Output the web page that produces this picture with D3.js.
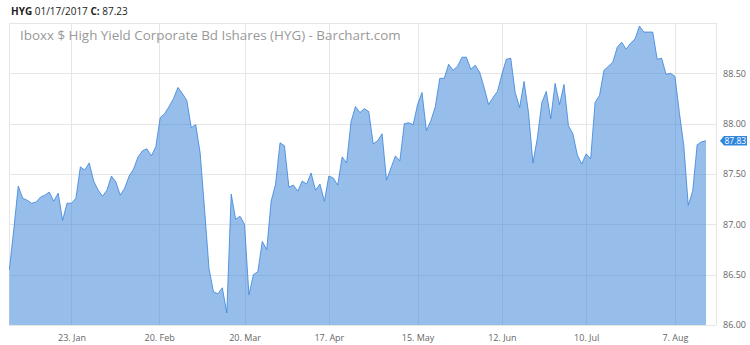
<!DOCTYPE html>
<html>
<head>
<meta charset="utf-8">
<script src="https://cdn.jsdelivr.net/npm/d3@7"></script>
<style>
  body { margin: 0; background: #fff; }
  svg { display: block; font-family: "Open Sans", sans-serif; }
</style>
</head>
<body>
<svg width="750" height="345"></svg>
<script>
// HYG daily closes, 30 Dec 2016 -> 16 Aug 2017 (one value per trading day)
var closes = [
  86.55, 86.95, 87.38, 87.26, 87.24, 87.21, 87.22, 87.27, 87.29, 87.32,
  87.23, 87.31, 87.04, 87.21, 87.21, 87.26, 87.57, 87.54, 87.61, 87.43,
  87.34, 87.28, 87.34, 87.48, 87.42, 87.29, 87.36, 87.48, 87.55, 87.67,
  87.73, 87.75, 87.68, 87.77, 88.06, 88.10, 88.17, 88.25, 88.36, 88.30,
  88.23, 87.96, 87.99, 87.71, 87.15, 86.56, 86.33, 86.31, 86.37, 86.12,
  87.30, 87.05, 87.08, 87.00, 86.30, 86.50, 86.53, 86.83, 86.75, 87.23,
  87.40, 87.81, 87.78, 87.37, 87.39, 87.33, 87.43, 87.40, 87.51, 87.34,
  87.40, 87.23, 87.48, 87.46, 87.39, 87.67, 87.61, 88.02, 88.17, 88.11,
  88.15, 88.12, 87.80, 87.83, 87.90, 87.44, 87.56, 87.68, 87.63, 88.00,
  88.01, 87.99, 88.19, 88.31, 87.93, 88.03, 88.17, 88.45, 88.45, 88.59,
  88.53, 88.57, 88.66, 88.66, 88.54, 88.58, 88.51, 88.36, 88.19, 88.26,
  88.32, 88.49, 88.64, 88.65, 88.31, 88.16, 88.42, 88.11, 87.61, 87.86,
  88.21, 88.32, 88.05, 88.40, 88.19, 88.39, 87.98, 87.90, 87.69, 87.60,
  87.70, 87.65, 88.21, 88.28, 88.53, 88.57, 88.61, 88.76, 88.81, 88.74,
  88.80, 88.84, 88.97, 88.91, 88.91, 88.91, 88.64, 88.65, 88.49, 88.50,
  88.47, 88.11, 87.78, 87.19, 87.33, 87.79, 87.82, 87.83
];

var firstDay = "2016-12-30";
var lastDay = "2017-08-16";
var holidays = ["2017-01-02", "2017-01-16", "2017-02-20", "2017-04-14", "2017-05-29", "2017-07-04"];

var xTickDates = ["2017-01-23", "2017-02-20", "2017-03-20", "2017-04-17", "2017-05-15", "2017-06-12", "2017-07-10", "2017-08-07"];
var xTickLabels = ["23. Jan", "20. Feb", "20. Mar", "17. Apr", "15. May", "12. Jun", "10. Jul", "7. Aug"];

var yTicks = [86, 86.5, 87, 87.5, 88, 88.5];
var yGrid = [86, 86.5, 87, 87.5, 88, 88.5, 89];

var symbol = "HYG";
var hoverDate = "01/17/2017";
var hoverClose = "87.23";
var title = "Iboxx $ High Yield Corporate Bd Ishares (HYG) - Barchart.com";

var parse = d3.utcParse("%Y-%m-%d");
var fmtDay = d3.utcFormat("%Y-%m-%d");

// trading calendar (weekdays minus exchange holidays)
var days = d3.utcDay.range(parse(firstDay), d3.utcDay.offset(parse(lastDay), 1))
  .filter(function(d) {
    var wd = d.getUTCDay();
    return wd != 0 && wd != 6 && holidays.indexOf(fmtDay(d)) == -1;
  });

var data = days.map(function(d, i) { return {date: d, close: closes[i]}; });

var svg = d3.select("svg"),
    plot = {left: 9, top: 23, right: 716, bottom: 325},
    dataRight = 706;

// ordinal-style x: evenly spaced trading days, piecewise time scale for ticks
var xi = d3.scaleLinear().domain([0, data.length - 1]).range([plot.left + 0.35, dataRight]);
var x = d3.scaleUtc()
  .domain(days)
  .range(days.map(function(d, i) { return xi(i); }));

var y = d3.scaleLinear().domain([86, 89]).range([plot.bottom, plot.top]);

var gridColor = "#e6e6e6";
var labelColor = "#666";
var seriesColor = "#2f7ed8";

// grid
svg.append("g")
  .selectAll("line.h")
  .data(yGrid)
  .enter().append("line")
  .attr("x1", plot.left).attr("x2", plot.right)
  .attr("y1", function(d) { return Math.round(y(d)) + 0.5; })
  .attr("y2", function(d) { return Math.round(y(d)) + 0.5; })
  .attr("stroke", gridColor);

var tickDates = xTickDates.map(parse);

svg.append("g")
  .selectAll("line")
  .data(tickDates)
  .enter().append("line")
  .attr("x1", function(d) { return Math.round(x(d)) + 0.5; })
  .attr("x2", function(d) { return Math.round(x(d)) + 0.5; })
  .attr("y1", plot.top).attr("y2", plot.bottom)
  .attr("stroke", gridColor);

svg.append("line")
  .attr("x1", plot.left + 0.5).attr("x2", plot.left + 0.5)
  .attr("y1", plot.top).attr("y2", plot.bottom)
  .attr("stroke", gridColor);
svg.append("line")
  .attr("x1", plot.right + 0.5).attr("x2", plot.right + 0.5)
  .attr("y1", plot.top).attr("y2", plot.bottom)
  .attr("stroke", gridColor);

// title inside the plot
svg.append("text")
  .attr("x", 20)
  .attr("y", 40)
  .attr("font-size", 13.4)
  .attr("fill", "#999")
  .text(title);

// area + line
var area = d3.area()
  .x(function(d) { return x(d.date); })
  .y0(y(86))
  .y1(function(d) { return y(d.close); });

var line = d3.line()
  .x(function(d) { return x(d.date); })
  .y(function(d) { return y(d.close); });

svg.append("path")
  .datum(data)
  .attr("d", area)
  .attr("fill", seriesColor)
  .attr("fill-opacity", 0.5);

svg.append("path")
  .datum(data)
  .attr("d", line)
  .attr("fill", "none")
  .attr("stroke", seriesColor)
  .attr("stroke-opacity", 0.75)
  .attr("stroke-width", 1);

// x axis
var xAxis = svg.append("g")
  .attr("transform", "translate(0," + plot.bottom + ")")
  .call(d3.axisBottom(x)
    .tickValues(tickDates)
    .tickFormat(function(d, i) { return xTickLabels[i]; })
    .tickSize(0)
    .tickPadding(10));
xAxis.select(".domain").remove();
xAxis.selectAll("text")
  .attr("font-family", "Open Sans, sans-serif")
  .attr("font-size", 9)
  .attr("fill", labelColor);

// y axis on the right
var yAxis = svg.append("g")
  .attr("transform", "translate(" + plot.right + ",0)")
  .call(d3.axisRight(y)
    .tickValues(yTicks)
    .tickFormat(d3.format(".2f"))
    .tickSize(0)
    .tickPadding(7));
yAxis.select(".domain").remove();
yAxis.selectAll("text")
  .attr("font-family", "Open Sans, sans-serif")
  .attr("font-size", 9)
  .attr("fill", labelColor);

// last price flag
var last = data[data.length - 1];
var ly = y(last.close);
var flag = svg.append("g").attr("transform", "translate(" + (plot.right + 4) + "," + ly + ")");
flag.append("path")
  .attr("d", "M0,0 L4,-4.8 L27,-4.8 L27,4.8 L4,4.8 Z")
  .attr("fill", "#2f86dd");
flag.append("text")
  .attr("x", 4.5)
  .attr("y", 3)
  .attr("font-size", 8.5)
  .attr("fill", "#fff")
  .text(d3.format(".2f")(last.close));

// header
var header = svg.append("text")
  .attr("x", 11)
  .attr("y", 15)
  .attr("font-size", 10)
  .attr("fill", "#222");
header.append("tspan").attr("font-weight", "bold").text(symbol + " ");
header.append("tspan").text(hoverDate + " ");
header.append("tspan").attr("font-weight", "bold").text("C: ");
header.append("tspan").text(hoverClose);
</script>
</body>
</html>
